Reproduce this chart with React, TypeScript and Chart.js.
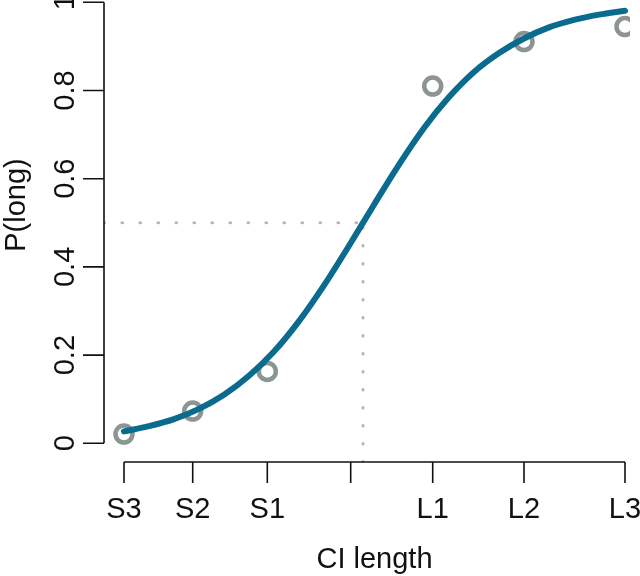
import React, { useEffect, useRef } from "react";
import { Chart, registerables } from "chart.js";

Chart.register(...registerables);

// Categories on the x axis (CI length conditions) and their positions on the axis
const categories = ["S3", "S2", "S1", "", "L1", "L2", "L3"];
const categoryPositions = [1.0, 1.687, 2.433, 3.267, 4.087, 5.0, 6.01];

// Observed proportions of "long" responses (no observation at the unlabeled middle tick)
const observedX = [1.0, 1.687, 2.433, 4.087, 5.0, 6.01];
const observedP = [0.021, 0.073, 0.163, 0.81, 0.911, 0.945];

// Fitted psychometric curve
const curveX = [1.0, 1.25, 1.5, 1.75, 2.0, 2.25, 2.5, 2.75, 3.0, 3.25, 3.5, 3.75, 4.0, 4.25, 4.5, 4.75, 5.0, 5.25, 5.5, 5.75, 6.01];
const curveP = [0.027, 0.039, 0.055, 0.078, 0.11, 0.153, 0.208, 0.277, 0.358, 0.448, 0.541, 0.632, 0.715, 0.785, 0.842, 0.885, 0.918, 0.943, 0.96, 0.972, 0.981];

// 50% threshold point
const thresholdX = 3.39;
const thresholdP = 0.5;

// y ticks
const yTickValues = [0, 0.2, 0.4, 0.6, 0.8, 1];
const yTickLabels = ["0", "0.2", "0.4", "0.6", "0.8", "1"];

const X_MIN = 0.8;
const X_MAX = 6.06;
const Y_MIN = -0.0424;
const Y_MAX = 1.0052;

const FONT = "29px 'Liberation Sans', Arial, Helvetica, sans-serif";

const axesPlugin = {
  id: "rAxes",
  afterDraw(chart: any) {
    const ctx = chart.ctx;
    const xs = chart.scales.x;
    const ys = chart.scales.y;
    const area = chart.chartArea;
    const tickLen = 21;
    ctx.save();
    ctx.strokeStyle = "#111";
    ctx.fillStyle = "#111";
    ctx.lineWidth = 1.6;
    ctx.font = FONT;

    // x axis
    const xTicks = xs.ticks;
    const xFirst = xs.getPixelForValue(xTicks[0].value);
    const xLast = xs.getPixelForValue(xTicks[xTicks.length - 1].value);
    const axisY = area.bottom;
    ctx.beginPath();
    ctx.moveTo(xFirst, axisY);
    ctx.lineTo(xLast, axisY);
    xTicks.forEach((t: any) => {
      const px = xs.getPixelForValue(t.value);
      ctx.moveTo(px, axisY);
      ctx.lineTo(px, axisY + tickLen);
    });
    ctx.stroke();
    ctx.textAlign = "center";
    ctx.textBaseline = "alphabetic";
    xTicks.forEach((t: any, i: number) => {
      const px = xs.getPixelForValue(t.value);
      ctx.fillText(categories[i], px, axisY + 56);
    });
    ctx.fillText("CI length", (xFirst + xLast) / 2, 568);

    // y axis
    const yTicks = ys.ticks;
    const axisX = area.left;
    const yFirst = ys.getPixelForValue(yTicks[0].value);
    const yLast = ys.getPixelForValue(yTicks[yTicks.length - 1].value);
    ctx.beginPath();
    ctx.moveTo(axisX, yFirst);
    ctx.lineTo(axisX, yLast);
    yTicks.forEach((t: any) => {
      const py = ys.getPixelForValue(t.value);
      ctx.moveTo(axisX, py);
      ctx.lineTo(axisX - tickLen, py);
    });
    ctx.stroke();
    yTicks.forEach((t: any, i: number) => {
      const py = ys.getPixelForValue(t.value);
      ctx.save();
      ctx.translate(axisX - 30, py);
      ctx.rotate(-Math.PI / 2);
      ctx.textAlign = "center";
      ctx.textBaseline = "alphabetic";
      ctx.fillText(yTickLabels[i], 0, 0);
      ctx.restore();
    });
    ctx.save();
    ctx.translate(25, 205);
    ctx.rotate(-Math.PI / 2);
    ctx.textAlign = "center";
    ctx.textBaseline = "alphabetic";
    ctx.fillText("P(long)", 0, 0);
    ctx.restore();
    ctx.restore();
  },
};

export default function App() {
  const canvasRef = useRef<HTMLCanvasElement | null>(null);

  useEffect(() => {
    const canvas = canvasRef.current;
    if (!canvas) return;
    const dotted = {
      borderColor: "#b4b4b4",
      borderWidth: 3,
      borderDash: [0.5, 17.5],
      borderCapStyle: "round" as const,
      pointRadius: 0,
      fill: false,
      tension: 0,
    };
    const chart = new Chart(canvas, {
      type: "line",
      data: {
        datasets: [
          {
            ...dotted,
            data: [
              { x: X_MIN, y: thresholdP },
              { x: thresholdX, y: thresholdP },
            ],
            order: 3,
          },
          {
            ...dotted,
            data: [
              { x: thresholdX, y: Y_MIN },
              { x: thresholdX, y: thresholdP },
            ],
            order: 3,
          },
          {
            type: "scatter",
            data: observedX.map((x, i) => ({ x, y: observedP[i] })),
            showLine: false,
            pointRadius: 8.5,
            pointBorderWidth: 4.5,
            pointBackgroundColor: "rgba(0,0,0,0)",
            pointBorderColor: "#8c9592",
            order: 2,
          } as any,
          {
            data: curveX.map((x, i) => ({ x, y: curveP[i] })),
            borderColor: "#0a6b8e",
            borderWidth: 6,
            borderCapStyle: "round",
            pointRadius: 0,
            cubicInterpolationMode: "monotone",
            fill: false,
            order: 1,
          },
        ],
      },
      options: {
        responsive: false,
        animation: false,
        events: [],
        layout: { autoPadding: false, padding: { left: 104, right: 10, top: 0, bottom: 114 } },
        plugins: {
          legend: { display: false },
          tooltip: { enabled: false },
        },
        scales: {
          x: {
            type: "linear",
            display: false,
            min: X_MIN,
            max: X_MAX,
            afterBuildTicks: (scale: any) => {
              scale.ticks = categoryPositions.map((v) => ({ value: v }));
            },
          },
          y: {
            type: "linear",
            display: false,
            min: Y_MIN,
            max: Y_MAX,
            afterBuildTicks: (scale: any) => {
              scale.ticks = yTickValues.map((v) => ({ value: v }));
            },
          },
        },
      },
      plugins: [axesPlugin],
    });
    return () => chart.destroy();
  }, []);

  return (
    <div style={{ position: "fixed", left: 0, top: 0, width: 640, height: 576, background: "#fff" }}>
      <canvas ref={canvasRef} width={640} height={576} style={{ display: "block" }} />
    </div>
  );
}
